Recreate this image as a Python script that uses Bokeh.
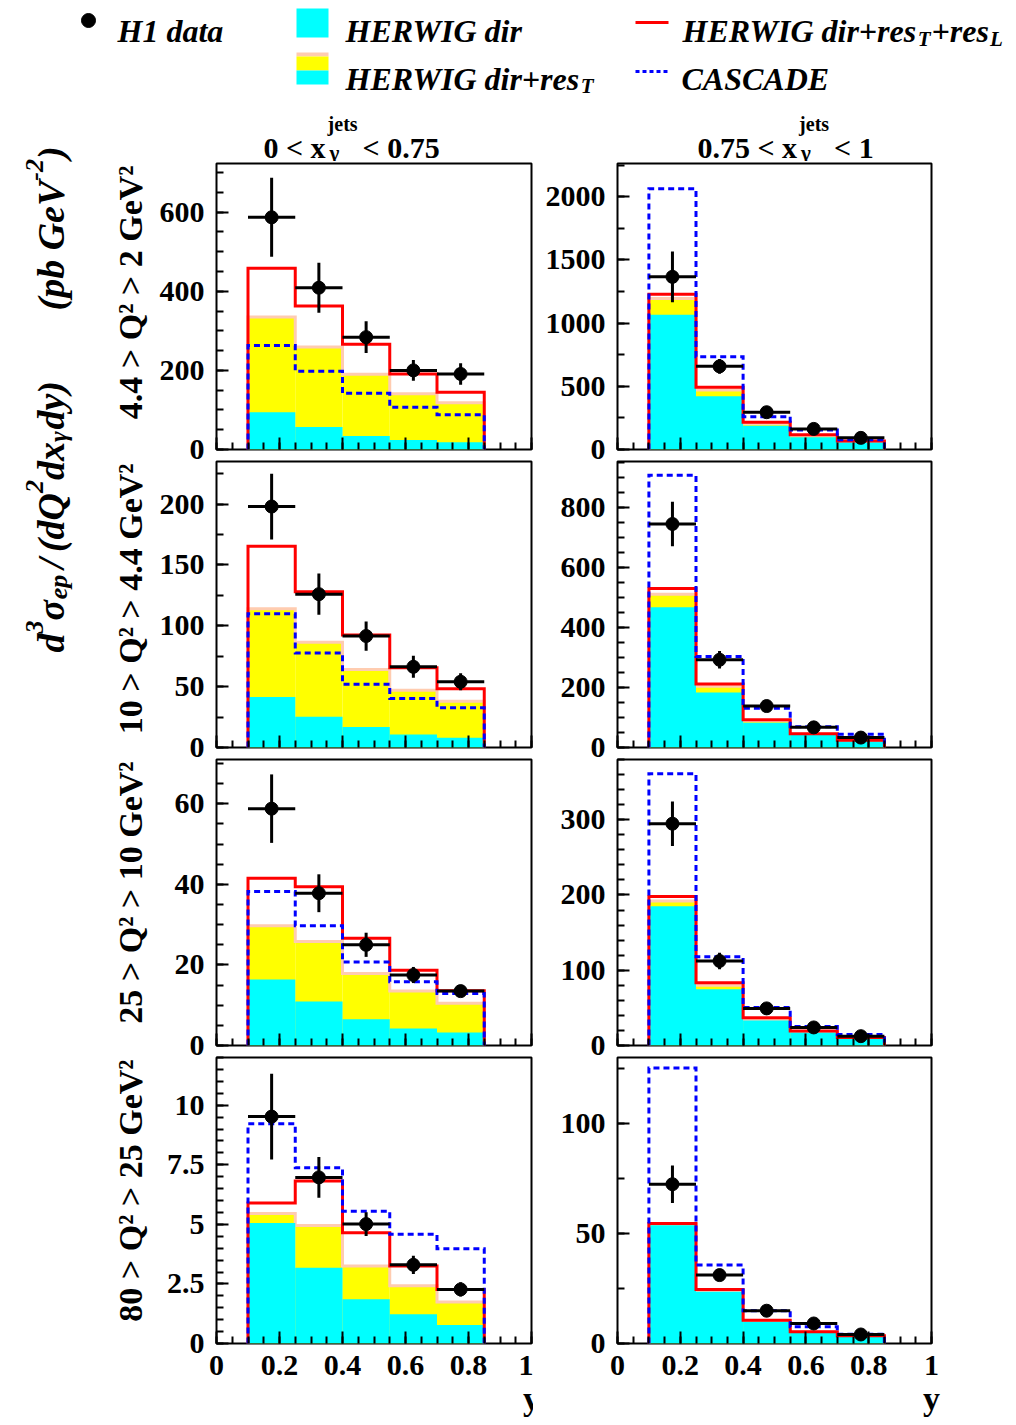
import numpy as np
from bokeh.plotting import figure
from bokeh.models import Range1d, FixedTicker, ColumnDataSource, CustomLabelingPolicy
from bokeh.layouts import column, row
from bokeh.embed import file_html
from bokeh.resources import INLINE
from bokeh.core.properties import value

FONT = "Liberation Serif"

# ---------------- data ----------------
y_edges = [0.1, 0.25, 0.4, 0.55, 0.7, 0.85]
y_centers = [0.175, 0.325, 0.475, 0.625, 0.775]

# 4.4 > Q2 > 2, x_gamma < 0.75
q1lo_h1 = [587, 409, 284, 200, 191]
q1lo_err = [100, 63, 40, 26, 27]
q1lo_dir = [94, 57, 34, 24, 18.5]
q1lo_dirres = [335, 259, 190, 141, 118]
q1lo_full = [458, 363, 266, 191, 145]
q1lo_casc = [263, 198, 142, 107, 88]
# 4.4 > Q2 > 2, x_gamma > 0.75
q1hi_h1 = [1366, 658, 295, 163, 92]
q1hi_err = [200, 58, 25, 15, 10]
q1hi_dir = [1066, 421, 187, 97, 55]
q1hi_dirres = [1195, 471, 203, 108, 63]
q1hi_full = [1229, 492, 216, 116, 68]
q1hi_casc = [2063, 734, 260, 155, 78]
# 10 > Q2 > 4.4
q2lo_h1 = [198, 126, 91.6, 66.3, 54]
q2lo_err = [27, 17, 12, 9, 7]
q2lo_dir = [41.5, 25.3, 16.8, 10.7, 8]
q2lo_dirres = [114, 86.5, 64, 47, 38]
q2lo_full = [165.4, 128, 92.5, 65.5, 48.2]
q2lo_casc = [110, 77.6, 52, 40.2, 32.7]
q2hi_h1 = [744, 292, 138, 67, 33]
q2hi_err = [74, 29, 12, 8, 5]
q2hi_dir = [467, 183, 82, 42, 20]
q2hi_dirres = [510, 204, 89, 44, 23]
q2hi_full = [529, 211, 92, 45.5, 24.4]
q2hi_casc = [906, 303, 131, 69, 44]
# 25 > Q2 > 10
q3lo_h1 = [58.8, 37.8, 25, 17.5, 13.5]
q3lo_err = [8.5, 4.7, 3, 2, 1]
q3lo_dir = [16.4, 10.9, 6.5, 4.2, 3.2]
q3lo_dirres = [29.7, 25.8, 17.9, 13.5, 10.5]
q3lo_full = [41.5, 39.4, 26.6, 18.7, 13.6]
q3lo_casc = [38.2, 29.7, 20.7, 15.8, 12.9]
q3hi_h1 = [294.7, 112.3, 49.3, 24, 12.4]
q3hi_err = [29.5, 11, 4, 3, 2]
q3hi_dir = [185, 74.6, 33.3, 17.3, 8.9]
q3hi_dirres = [192, 80, 34.6, 18.2, 9.8]
q3hi_full = [198, 83.4, 36.8, 19.1, 10.7]
q3hi_casc = [361, 118, 50.6, 25.3, 14.6]
# 80 > Q2 > 25
q4lo_h1 = [9.52, 6.97, 5.01, 3.3, 2.27]
q4lo_err = [1.8, 0.85, 0.5, 0.38, 0.3]
q4lo_dir = [5.06, 3.18, 1.86, 1.23, 0.78]
q4lo_dirres = [5.45, 4.95, 3.25, 2.42, 1.74]
q4lo_full = [5.9, 6.82, 4.65, 3.25, 2.27]
q4lo_casc = [9.22, 7.37, 5.55, 4.58, 3.98]
q4hi_h1 = [72.4, 31.1, 14.9, 9.1, 4.1]
q4hi_err = [8.5, 2.5, 1.5, 1.0, 0.8]
q4hi_dir = [53.7, 23.5, 9.9, 4.9, 3.0]
q4hi_dirres = [54.2, 24.0, 10.2, 5.1, 3.2]
q4hi_full = [54.6, 24.6, 10.6, 5.3, 3.5]
q4hi_casc = [125.2, 35.7, 14.9, 7.6, 4.25]

# axis ranges and tick labels
q1lo_ymax, q1lo_ticks, q1lo_labels, q1lo_minor = 723, [0, 200, 400, 600], ["0", "200", "400", "600"], 50
q1hi_ymax, q1hi_ticks, q1hi_labels, q1hi_minor = 2263, [0, 500, 1000, 1500, 2000], ["0", "500", "1000", "1500", "2000"], 250
q2lo_ymax, q2lo_ticks, q2lo_labels, q2lo_minor = 235, [0, 50, 100, 150, 200], ["0", "50", "100", "150", "200"], 25
q2hi_ymax, q2hi_ticks, q2hi_labels, q2hi_minor = 952, [0, 200, 400, 600, 800], ["0", "200", "400", "600", "800"], 50
q3lo_ymax, q3lo_ticks, q3lo_labels, q3lo_minor = 71, [0, 20, 40, 60], ["0", "20", "40", "60"], 5
q3hi_ymax, q3hi_ticks, q3hi_labels, q3hi_minor = 380, [0, 100, 200, 300], ["0", "100", "200", "300"], 20
q4lo_ymax, q4lo_ticks, q4lo_labels, q4lo_minor = 12, [0, 2.5, 5, 7.5, 10], ["0", "2.5", "5", "7.5", "10"], 0.5
q4hi_ymax, q4hi_ticks, q4hi_labels, q4hi_minor = 130, [0, 50, 100], ["0", "50", "100"], 25

x_ticks = [0, 0.2, 0.4, 0.6, 0.8, 1.0]
x_labels = ["0", "0.2", "0.4", "0.6", "0.8", "1"]
x_title = "y"

row_labels = ["4.4 > Q\u00b2 > 2 GeV\u00b2", "10 > Q\u00b2 > 4.4 GeV\u00b2",
              "25 > Q\u00b2 > 10 GeV\u00b2", "80 > Q\u00b2 > 25 GeV\u00b2"]
col_titles = [("0 < x", "< 0.75"), ("0.75 < x", "< 1")]

CYAN, YELLOW, PEACH, RED, BLUE = "#00FFFF", "#FFFF00", "#FFCCB0", "#FF0000", "#0000FF"

# font metrics (Times bold italic / bold), per 1000 em
W_BI = {' ': 250, '(': 333, ')': 333, '+': 570, '-': 333, '/': 278, 'A': 667, 'C': 667, 'D': 722,
        'E': 667, 'G': 722, 'H': 778, 'I': 389, 'L': 611, 'Q': 722, 'R': 667, 'S': 556, 'T': 611,
        'V': 667, 'W': 889, 'a': 500, 'b': 500, 'd': 500, 'e': 444, 'i': 278, 'p': 500, 'r': 389,
        's': 389, 't': 278, 'x': 500, 'y': 444, '\u03c3': 560, '\u03b3': 440}
W_B = {' ': 250, '<': 570, '.': 250, 'x': 500, 'j': 333, 'e': 444, 't': 333, 's': 389, '\u03b3': 500}


def adv(s, size, table):
    return sum(table.get(ch, 500) for ch in s) / 1000.0 * size


def step_xy(edges, vals):
    xs, ys = [edges[0]], [0]
    for i, v in enumerate(vals):
        xs += [edges[i], edges[i + 1]]
        ys += [v, v]
    xs.append(edges[-1])
    ys.append(0)
    return xs, ys


def canvas(x0, y0, w, h):
    c = figure(width=w, height=h, x_range=Range1d(x0, x0 + w), y_range=Range1d(y0 + h, y0),
               output_backend="svg", toolbar_location=None, min_border=0,
               x_axis_location=None, y_axis_location=None)
    c.outline_line_color = None
    c.xgrid.visible = False
    c.ygrid.visible = False
    return c


def txt(c, x, y, s, size, style="bold", align="left", angle=0):
    c.text(x=[x], y=[y], text=[s], text_font=value(FONT), text_font_size=f"{size}px",
           text_font_style=style, text_align=align, text_baseline="alphabetic", angle=angle,
           text_color="black")


AXIS_TITLE_OK = True


def panel(h1, err, d, dr, full, casc, ymax, ticks, labels, minor, left, fw, right, bottom, show_x):
    global AXIS_TITLE_OK
    p = figure(frame_width=fw, frame_height=286, x_range=Range1d(0, 1), y_range=Range1d(0, ymax),
               output_backend="svg", toolbar_location=None,
               min_border_left=left, min_border_right=right, min_border_top=2, min_border_bottom=bottom)
    p.xgrid.visible = False
    p.ygrid.visible = False
    p.outline_line_color = "black"
    p.outline_line_width = 2
    p.background_fill_color = "white"
    p.border_fill_color = "white"

    lefts, rights = y_edges[:-1], y_edges[1:]
    p.quad(left=lefts, right=rights, bottom=0, top=dr, fill_color=YELLOW, line_color=None)
    xs, ys = step_xy(y_edges, dr)
    p.line(xs, ys, line_color=PEACH, line_width=3, line_join="miter")
    p.quad(left=lefts, right=rights, bottom=0, top=d, fill_color=CYAN, line_color=None)
    xs, ys = step_xy(y_edges, full)
    p.line(xs, ys, line_color=RED, line_width=3, line_join="miter")
    xs, ys = step_xy(y_edges, casc)
    p.line(xs, ys, line_color=BLUE, line_width=3, line_dash="6 4", line_join="miter")

    src = ColumnDataSource(dict(x=y_centers, x0=lefts, x1=rights, y=h1,
                                lo=[a - b for a, b in zip(h1, err)], hi=[a + b for a, b in zip(h1, err)]))
    p.segment(x0="x0", y0="y", x1="x1", y1="y", source=src, line_color="black", line_width=3)
    p.segment(x0="x", y0="lo", x1="x", y1="hi", source=src, line_color="black", line_width=3)
    p.scatter(x="x", y="y", source=src, size=13, color="black")

    xa, ya = p.xaxis[0], p.yaxis[0]
    xa.ticker = FixedTicker(ticks=x_ticks, minor_ticks=[round(0.05 * i, 2) for i in range(21)])
    ya.ticker = FixedTicker(ticks=ticks, minor_ticks=[float(v) for v in np.arange(0, ymax + 1e-9, minor)])
    xa.major_label_overrides = {t: l for t, l in zip(x_ticks, x_labels)}
    ya.major_label_overrides = {t: l for t, l in zip(ticks, labels)}
    for ax in (xa, ya):
        ax.axis_line_color = None
        ax.major_tick_in = 12
        ax.major_tick_out = 0
        ax.minor_tick_in = 7
        ax.minor_tick_out = 0
        ax.major_tick_line_width = 2
        ax.minor_tick_line_width = 2
        ax.major_tick_line_color = "black"
        ax.minor_tick_line_color = "black"
        ax.major_label_text_font = FONT
        ax.major_label_text_font_style = "bold"
        ax.major_label_text_font_size = "30px"
        ax.major_label_text_color = "black"
    ya.major_label_standoff = 12
    if show_x:
        xa.major_label_standoff = 12
        try:
            xa.axis_label_align = "end"
            xa.axis_label = x_title
            xa.axis_label_standoff = 2
            xa.axis_label_text_font = FONT
            xa.axis_label_text_font_style = "bold"
            xa.axis_label_text_font_size = "34px"
            xa.axis_label_text_color = "black"
        except (AttributeError, ValueError):
            AXIS_TITLE_OK = False
            xa.axis_label = None
    else:
        xa.major_label_text_font_size = "0px"
        xa.major_label_standoff = 0
        xa.major_label_policy = CustomLabelingPolicy(code="return []")
    return p


panels_lo = [
    (q1lo_h1, q1lo_err, q1lo_dir, q1lo_dirres, q1lo_full, q1lo_casc, q1lo_ymax, q1lo_ticks, q1lo_labels, q1lo_minor),
    (q2lo_h1, q2lo_err, q2lo_dir, q2lo_dirres, q2lo_full, q2lo_casc, q2lo_ymax, q2lo_ticks, q2lo_labels, q2lo_minor),
    (q3lo_h1, q3lo_err, q3lo_dir, q3lo_dirres, q3lo_full, q3lo_casc, q3lo_ymax, q3lo_ticks, q3lo_labels, q3lo_minor),
    (q4lo_h1, q4lo_err, q4lo_dir, q4lo_dirres, q4lo_full, q4lo_casc, q4lo_ymax, q4lo_ticks, q4lo_labels, q4lo_minor),
]
panels_hi = [
    (q1hi_h1, q1hi_err, q1hi_dir, q1hi_dirres, q1hi_full, q1hi_casc, q1hi_ymax, q1hi_ticks, q1hi_labels, q1hi_minor),
    (q2hi_h1, q2hi_err, q2hi_dir, q2hi_dirres, q2hi_full, q2hi_casc, q2hi_ymax, q2hi_ticks, q2hi_labels, q2hi_minor),
    (q3hi_h1, q3hi_err, q3hi_dir, q3hi_dirres, q3hi_full, q3hi_casc, q3hi_ymax, q3hi_ticks, q3hi_labels, q3hi_minor),
    (q4hi_h1, q4hi_err, q4hi_dir, q4hi_dirres, q4hi_full, q4hi_casc, q4hi_ymax, q4hi_ticks, q4hi_labels, q4hi_minor),
]

rows = []
for i in range(4):
    last = (i == 3)
    bottom = 60 if last else 10
    L = panel(*panels_lo[i], left=66, fw=315, right=2, bottom=bottom, show_x=last)
    R = panel(*panels_hi[i], left=84, fw=314, right=77, bottom=bottom, show_x=last)
    rows.append(row(L, R))

# ---------------- header / legend ----------------
header = canvas(0, 0, 1008, 98)
LS, SS = 32, 21
header.scatter(x=[88], y=[20], size=14, color="black")
txt(header, 117, 30, "H1 data", LS, "bold italic")
header.quad(left=[296], right=[328], top=[8], bottom=[37], fill_color=CYAN, line_color=None)
txt(header, 345, 30, "HERWIG dir", LS, "bold italic")
header.segment(x0=[635], y0=[22], x1=[668], y1=[22], line_color=RED, line_width=3)
x = 681
for s, sz, dy in [("HERWIG dir+res", LS, 0), ("T", SS, 8), ("+res", LS, 0), ("L", SS, 8)]:
    txt(header, x + 1, 30 + dy, s, sz, "bold italic")
    x += adv(s, sz, W_BI) + 1
header.quad(left=[296], right=[328], top=[52], bottom=[56], fill_color=PEACH, line_color=None)
header.quad(left=[296], right=[328], top=[56], bottom=[70], fill_color=YELLOW, line_color=None)
header.quad(left=[296], right=[328], top=[70], bottom=[84], fill_color=CYAN, line_color=None)
x = 345
for s, sz, dy in [("HERWIG dir+res", LS, 0), ("T", SS, 7)]:
    txt(header, x, 78 + dy, s, sz, "bold italic")
    x += adv(s, sz, W_BI) + 1
header.segment(x0=[635], y0=[71], x1=[668], y1=[71], line_color=BLUE, line_width=3, line_dash="4 3")
txt(header, 681, 78, "CASCADE", LS, "bold italic")

# ---------------- column titles ----------------
coltitle = canvas(150, 98, 858, 63)
TS = 30
for (a, b), x0 in zip(col_titles, [263, 697]):
    txt(coltitle, x0, 147, a, TS)
    xs = x0 + adv(a, TS, W_B) + 2
    txt(coltitle, xs, 123, "jets", 20)
    txt(coltitle, xs + 2, 152, "\u03b3", 21)
    txt(coltitle, xs + adv("jets", 20, W_B) + 5, 147, b, TS)

# ---------------- left strip: y title + row labels ----------------
strip = canvas(0, 98, 150, 1321)
ANG = np.pi / 2
for top, s in zip([163, 461, 759, 1057], row_labels):
    txt(strip, 130, top + 2, s, 34, "bold", align="right", angle=ANG)

F, S = 38, 26
XB = 50
ypos = 652
for s, sz, dx, gap in [("d", F, 0, 0), ("3", S, -16, 0), ("\u03c3", F, 0, 0), ("ep", S, 8, 6),
                       ("/", F, 0, 6), ("(dQ", F, 0, 0), ("2", S, -16, 0), ("dx", F, 0, 0),
                       ("\u03b3", S, 8, 1), ("dy)", F, 0, 0)]:
    txt(strip, XB + dx, ypos, s, sz, "bold italic", angle=ANG)
    ypos -= adv(s, sz, W_BI) + gap
ypos = 310
for s, sz, dx in [("(pb GeV", F, 0), ("-2", S, -16), (")", F, 0)]:
    txt(strip, XB + dx, ypos, s, sz, "bold italic", angle=ANG)
    ypos -= adv(s, sz, W_BI)

colB = [coltitle] + rows
if not AXIS_TITLE_OK:
    bottom_c = canvas(150, 1403, 858, 20)
    txt(bottom_c, 531, 1418, x_title, 34, "bold", align="right")
    txt(bottom_c, 931, 1418, x_title, 34, "bold", align="right")
    colB.append(bottom_c)

layout = column(header, row(strip, column(*colB)))

with open("out.html", "w") as f:
    f.write(file_html(layout, INLINE))
